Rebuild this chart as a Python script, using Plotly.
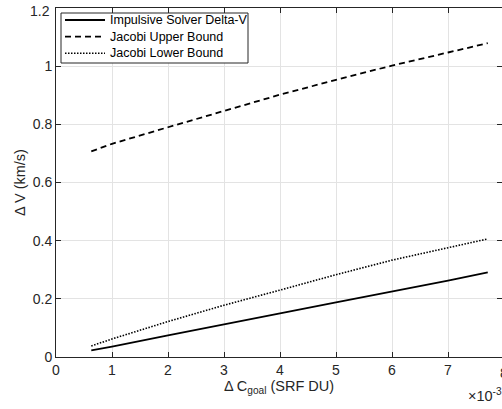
import plotly.graph_objects as go

# x values in units of 1e-3 (SRF DU)
dc_goal = [0.63, 1, 2, 3, 4, 5, 6, 7, 7.71]
impulsive = [0.023, 0.036, 0.074, 0.113, 0.150, 0.188, 0.225, 0.263, 0.291]
jacobi_upper = [0.707, 0.733, 0.790, 0.847, 0.902, 0.953, 1.002, 1.047, 1.079]
jacobi_lower = [0.038, 0.062, 0.122, 0.178, 0.230, 0.283, 0.333, 0.375, 0.406]

series_names = ["Impulsive Solver Delta-V", "Jacobi Upper Bound", "Jacobi Lower Bound"]
series_values = [impulsive, jacobi_upper, jacobi_lower]
series_dash = ["solid", "6px,4px", "1.5px,1.5px"]
series_width = [1.8, 1.8, 1.6]

x_ticks = [0, 1, 2, 3, 4, 5, 6, 7, 8]
y_ticks = [0, 0.2, 0.4, 0.6, 0.8, 1.0, 1.2]
y_labels = ["0", "0.2", "0.4", "0.6", "0.8", "1", "1.2"]

FONT = "Liberation Sans, Arial, sans-serif"
AX = "#262626"
GRID = "#e3e3e3"

W, H = 502, 409
L, R, T, B = 56, 0, 8, 52
PW, PH = W - L - R, H - T - B
PX_PER_UNIT = 56.0


def px_to_paper_x(px):
    return (px - L) / PW


def py_to_paper_y(py):
    return (H - B - py) / PH


fig = go.Figure()
for name, vals, dash, lw in zip(series_names, series_values, series_dash, series_width):
    fig.add_trace(go.Scatter(x=dc_goal, y=vals, mode="lines", name=name,
                             showlegend=False,
                             line=dict(color="black", width=lw, dash=dash)))

fig.update_layout(
    width=W, height=H,
    margin=dict(l=L, r=R, t=T, b=B),
    paper_bgcolor="white", plot_bgcolor="white",
    font=dict(family=FONT, size=14, color=AX),
    xaxis=dict(range=[0, PW / PX_PER_UNIT], tickvals=x_ticks,
               ticktext=[str(v) for v in x_ticks],
               showgrid=True, gridcolor=GRID, gridwidth=1,
               showline=True, linecolor=AX, linewidth=1, mirror="ticks",
               ticks="inside", ticklen=5, tickcolor=AX,
               zeroline=False, tickfont=dict(size=14, color=AX),
               title=dict(text="\u0394 C<sub>goal</sub> (SRF DU)",
                          font=dict(size=14.5, color=AX), standoff=4)),
    yaxis=dict(range=[0, 1.2000001], tickvals=y_ticks, ticktext=y_labels,
               showgrid=True, gridcolor=GRID, gridwidth=1,
               showline=True, linecolor=AX, linewidth=1, mirror="ticks",
               ticks="inside", ticklen=5, tickcolor=AX,
               zeroline=False, tickfont=dict(size=14, color=AX),
               title=dict(text="\u0394 V (km/s)",
                          font=dict(size=14.5, color=AX), standoff=3)),
)

# Legend box (drawn by hand to match the compact MATLAB legend)
fig.add_shape(type="rect", xref="paper", yref="paper",
              x0=px_to_paper_x(61), x1=px_to_paper_x(248),
              y0=py_to_paper_y(63), y1=py_to_paper_y(13),
              line=dict(color=AX, width=1), fillcolor="white", layer="above")
row_y = [20, 36.7, 53.3]
for name, dash, lw, ry in zip(series_names, series_dash, series_width, row_y):
    fig.add_shape(type="line", xref="paper", yref="paper",
                  x0=px_to_paper_x(65), x1=px_to_paper_x(105),
                  y0=py_to_paper_y(ry), y1=py_to_paper_y(ry),
                  line=dict(color="black", width=lw, dash=dash), layer="above")
    fig.add_annotation(xref="paper", yref="paper",
                       x=px_to_paper_x(108), y=py_to_paper_y(ry),
                       xanchor="left", yanchor="middle", showarrow=False,
                       text=name, font=dict(size=12.5, color="black"))

# Top tick label "1.2" (Plotly hides the label at the very top edge)
fig.add_annotation(xref="paper", yref="paper",
                   x=px_to_paper_x(51.5), y=py_to_paper_y(11),
                   xanchor="right", yanchor="middle", showarrow=False,
                   text=y_labels[-1], font=dict(size=14, color=AX))

# Last tick label "8" (sits at the cropped right edge)
fig.add_annotation(xref="paper", yref="paper",
                   x=px_to_paper_x(504), y=py_to_paper_y(373),
                   xanchor="center", yanchor="middle", showarrow=False,
                   text=str(x_ticks[-1]), font=dict(size=14, color=AX))

# Exponent label
fig.add_annotation(xref="paper", yref="paper",
                   x=px_to_paper_x(466), y=py_to_paper_y(395),
                   xanchor="left", yanchor="middle", showarrow=False,
                   text="\u00d710<sup>-3</sup>",
                   font=dict(size=14.5, color=AX))

fig.write_html("out.html")
